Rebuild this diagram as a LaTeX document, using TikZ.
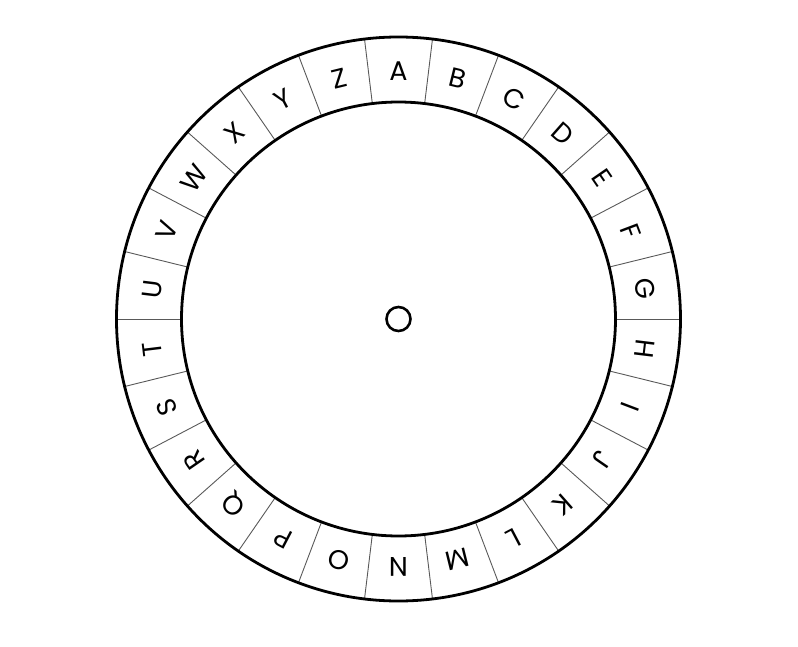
\documentclass[tikz,border=0pt]{standalone}
\usepackage{fontspec}
\setmainfont{Poppins}
\begin{document}
\begin{tikzpicture}[x=1pt,y=1pt,
  ring/.style={line width=2.8pt},
  divider/.style={line width=0.9pt, black!65},
  letter/.style={font=\fontsize{27}{27}\selectfont, inner sep=0pt, text=black}]
\useasboundingbox (-398.5,-327) rectangle (399.5,319);
\foreach \i in {0,...,25} {
  \draw[divider] ({\i*360/26}:217) -- ({\i*360/26}:282);
}
\draw[ring] (0,0) circle (282);
\draw[ring] (0,0) circle (217);
\draw[line width=2.6pt] (0,0) circle (12);
\foreach \l [count=\i from 0] in {A,B,C,D,E,F,G,H,I,J,K,L,M,N,O,P,Q,R,S,T,U,V,W,X,Y,Z} {
  \pgfmathsetmacro{\ang}{90-\i*360/26}
  \node[letter, rotate=\ang-90] (L\i) at (\ang:248) {\l};
}
\end{tikzpicture}
\end{document}
